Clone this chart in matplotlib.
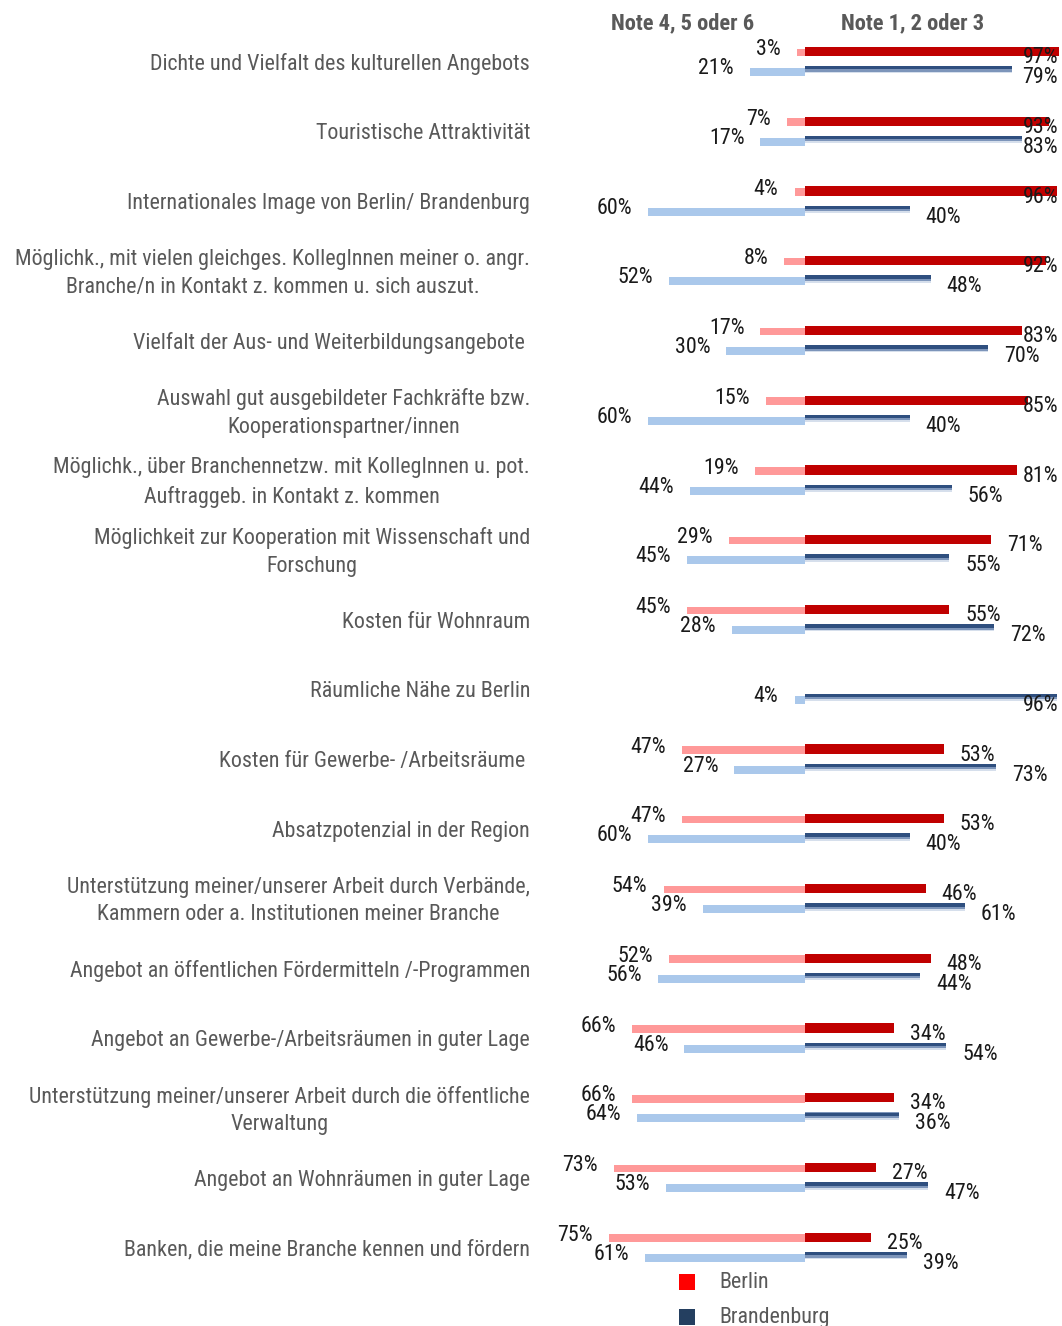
import numpy as np
import matplotlib
matplotlib.use("Agg")
import matplotlib.pyplot as plt
import matplotlib.transforms as mtransforms
from matplotlib.patches import Rectangle
from matplotlib import font_manager

# --- data ---
categories = [
    "Dichte und Vielfalt des kulturellen Angebots",
    "Touristische Attraktivität",
    "Internationales Image von Berlin/ Brandenburg",
    "Möglichk., mit vielen gleichges. KollegInnen meiner o. angr.\nBranche/n in Kontakt z. kommen u. sich auszut.",
    "Vielfalt der Aus- und Weiterbildungsangebote ",
    "Auswahl gut ausgebildeter Fachkräfte bzw.\nKooperationspartner/innen",
    "Möglichk., über Branchennetzw. mit KollegInnen u. pot.\nAuftraggeb. in Kontakt z. kommen",
    "Möglichkeit zur Kooperation mit Wissenschaft und\nForschung",
    "Kosten für Wohnraum",
    "Räumliche Nähe zu Berlin",
    "Kosten für Gewerbe- /Arbeitsräume ",
    "Absatzpotenzial in der Region",
    "Unterstützung meiner/unserer Arbeit durch Verbände,\nKammern oder a. Institutionen meiner Branche",
    "Angebot an öffentlichen Fördermitteln /-Programmen",
    "Angebot an Gewerbe-/Arbeitsräumen in guter Lage",
    "Unterstützung meiner/unserer Arbeit durch die öffentliche\nVerwaltung",
    "Angebot an Wohnräumen in guter Lage",
    "Banken, die meine Branche kennen und fördern",
]
berlin_bad = [3, 7, 4, 8, 17, 15, 19, 29, 45, None, 47, 47, 54, 52, 66, 66, 73, 75]
berlin_good = [97, 93, 96, 92, 83, 85, 81, 71, 55, None, 53, 53, 46, 48, 34, 34, 27, 25]
brand_bad = [21, 17, 60, 52, 30, 60, 44, 45, 28, 4, 27, 60, 39, 56, 46, 64, 53, 61]
brand_good = [79, 83, 40, 48, 70, 40, 56, 55, 72, 96, 73, 40, 61, 44, 54, 36, 47, 39]

header_bad = "Note 4, 5 oder 6"
header_good = "Note 1, 2 oder 3"
series_names = ["Berlin", "Brandenburg"]

# --- fonts: narrow face if we have one ---
installed = {f.name for f in font_manager.fontManager.ttflist}
if "Liberation Sans Narrow" in installed:
    FACE, FS = "Liberation Sans Narrow", 14.8
elif "Roboto Condensed" in installed:
    FACE, FS = "Roboto Condensed", 15.8
elif "Liberation Sans" in installed:
    FACE, FS = "Liberation Sans", 12.3
else:
    FACE, FS = "DejaVu Sans", 11.2
plt.rcParams["font.family"] = [FACE, "DejaVu Sans"]

W, H = 1062, 1326
RED = "#c00000"
PINK = "#ff9999"
LIGHTBLUE = "#aac8eb"
NAVY = "#2f4f7f"
GRAY = "#595959"
TXT = "#1a1a1a"

PX_PER_PCT = 2.62
ZERO_PX = 805
ROW0 = 61.5
ROW_STEP = 69.76
AX_LEFT = 560


def px_y(p):
    # pixel offset -> row units
    return p / ROW_STEP


fig = plt.figure(figsize=(W / 100, H / 100), dpi=100)
ax = fig.add_axes([AX_LEFT / W, 0, (W - AX_LEFT) / W, 1])
ax.set_xlim((AX_LEFT - ZERO_PX) / PX_PER_PCT, (W - ZERO_PX) / PX_PER_PCT)
ax.set_ylim((H - ROW0) / ROW_STEP, -ROW0 / ROW_STEP)
ax.axis("off")

y = np.arange(len(categories))
bb = np.array([np.nan if v is None else v for v in berlin_bad], dtype=float)
bg = np.array([np.nan if v is None else v for v in berlin_good], dtype=float)
rb = np.array(brand_bad, dtype=float)
rg = np.array(brand_good, dtype=float)

# Berlin bars
ax.barh(y + px_y(-9.2), -bb, height=px_y(7.6), color=PINK, linewidth=0)
ax.barh(y + px_y(-10.1), bg, height=px_y(9.3), color=RED, linewidth=0)

# Brandenburg bars (dark line fading to light below)
ax.barh(y + px_y(10.5), -rb, height=px_y(8), color=LIGHTBLUE, linewidth=0)
ax.barh(y + px_y(8.2), rg, height=px_y(7.4), color="#d6dfec", linewidth=0)
ax.barh(y + px_y(7.3), rg, height=px_y(5.6), color="#7d95ba", linewidth=0)
ax.barh(y + px_y(6.3), rg, height=px_y(3.4), color=NAVY, linewidth=0)

# value labels
GAP = 16 / PX_PER_PCT
XMAX = (1058 - ZERO_PX) / PX_PER_PCT
LW = 35 / PX_PER_PCT


def label_pos(v, yc):
    x = v + GAP
    if x + LW > XMAX:
        ax.text(XMAX, yc, f"{int(v)}%", ha="right", va="center",
                fontsize=FS, color=TXT)
    else:
        ax.text(x, yc, f"{int(v)}%", ha="left", va="center",
                fontsize=FS, color=TXT)


def label_neg(v, yc):
    ax.text(-v - GAP, yc, f"{int(v)}%", ha="right", va="center",
            fontsize=FS, color=TXT)


for i in range(len(categories)):
    if not np.isnan(bb[i]):
        label_neg(bb[i], i + px_y(-12))
        label_pos(bg[i], i + px_y(-4))
    label_neg(rb[i], i + px_y(7))
    label_pos(rg[i], i + px_y(16))

# category labels
trans = mtransforms.blended_transform_factory(fig.transFigure, ax.transData)
for i, cat in enumerate(categories):
    fig.text(530 / W, i + px_y(2.5), cat, transform=trans, ha="right",
             va="center", multialignment="center", fontsize=FS, color=GRAY,
             linespacing=1.42)

# headers
fig.text(683 / W, 1 - 23 / H, header_bad, ha="center", va="center",
         fontsize=FS + 0.4, fontweight="bold", color=GRAY)
fig.text(913 / W, 1 - 23 / H, header_good, ha="center", va="center",
         fontsize=FS + 0.4, fontweight="bold", color=GRAY)

# legend
for k, (name, col) in enumerate(zip(series_names, ["#ff0000", "#243f60"])):
    yc = 1282 + 35 * k
    fig.add_artist(Rectangle((679 / W, 1 - (yc + 8) / H), 16 / W, 16 / H,
                             transform=fig.transFigure, color=col, lw=0))
    fig.text(719 / W, 1 - yc / H, name, ha="left", va="center",
             fontsize=FS, color=GRAY)

fig.savefig("out.png", dpi=100)
